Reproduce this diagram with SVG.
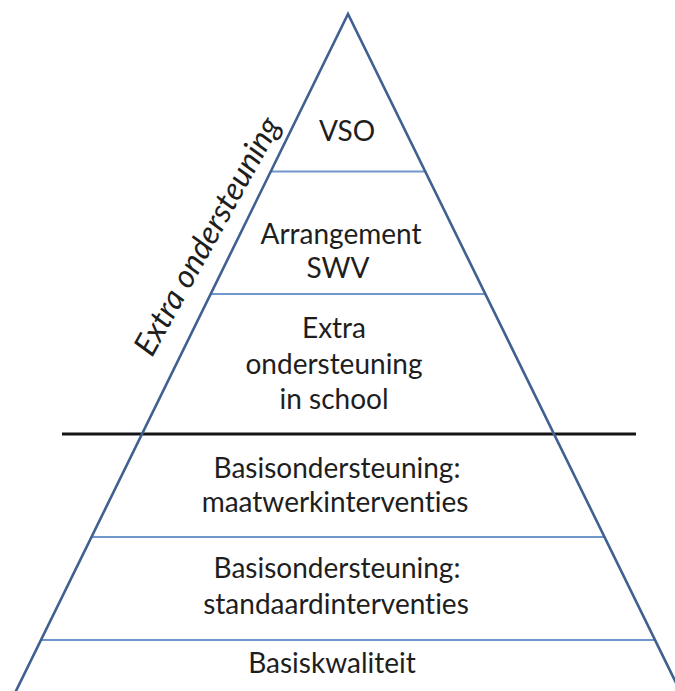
<svg xmlns="http://www.w3.org/2000/svg" width="675" height="691" viewBox="0 0 675 691">
<style>
.edge{stroke:#40618f;stroke-width:2.6;fill:none;stroke-linecap:round}
.div{stroke:#7096cb;stroke-width:1.8;fill:none}
.sep{stroke:#151515;stroke-width:3;fill:none}
.t{font-family:Lato,"Open Sans",sans-serif;font-size:28px;fill:#1e1e1e;text-anchor:middle;font-variant-ligatures:none}
.side{font-family:Lato,"Open Sans",sans-serif;font-size:32px;font-style:italic;fill:#1e1e1e;font-variant-ligatures:none}
</style>
<rect width="675" height="691" fill="#ffffff"/>
<g id="connectors">
<line class="div" x1="270.6" y1="171.5" x2="425.4" y2="171.5"/>
<line class="div" x1="210.5" y1="294" x2="485.5" y2="294"/>
<line class="div" x1="92" y1="537" x2="604" y2="537"/>
<line class="div" x1="41" y1="640" x2="655" y2="640"/>
<line class="sep" x1="62" y1="434" x2="636" y2="434"/>
<polyline class="edge" points="14,695 348,14 682,695"/>
</g>
<g id="vso"><text class="t" x="347" y="141">VSO</text></g>
<g id="arrangement"><text class="t" x="341" y="244">Arrangement</text><text class="t" x="338" y="278">SWV</text></g>
<g id="extra-school"><text class="t" x="334" y="338">Extra</text><text class="t" x="334" y="374">ondersteuning</text><text class="t" x="334" y="409">in school</text></g>
<g id="maatwerk"><text class="t" x="337" y="478">Basisondersteuning:</text><text class="t" x="335" y="512">maatwerkinterventies</text></g>
<g id="standaard"><text class="t" x="337" y="578">Basisondersteuning:</text><text class="t" x="336" y="614">standaardinterventies</text></g>
<g id="basiskwaliteit"><text class="t" x="332" y="673">Basiskwaliteit</text></g>
<g id="extra-label"><text class="side" transform="translate(152,358) rotate(-61)">Extra ondersteuning</text></g>
</svg>
